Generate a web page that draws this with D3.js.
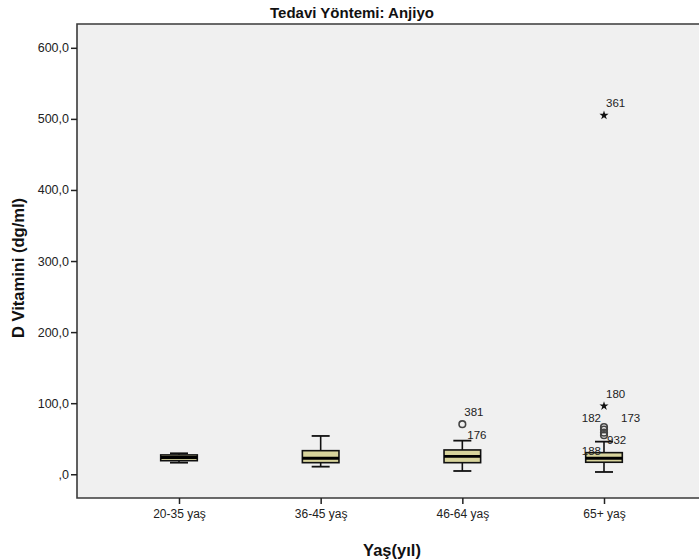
<!DOCTYPE html>
<html>
<head>
<meta charset="utf-8">
<script src="https://cdn.jsdelivr.net/npm/d3@7"></script>
<style>
  html, body { margin: 0; padding: 0; background: #fff; }
  svg { display: block; }
  text { font-family: "Liberation Sans", Arial, sans-serif; }
</style>
</head>
<body>
<svg id="chart" width="699" height="559"></svg>
<script>
// Age groups and five-number summaries of vitamin D (dg/ml)
const categories   = ["20-35 yaş", "36-45 yaş", "46-64 yaş", "65+ yaş"];
const whiskerLow   = [16.3, 10.7, 4.6, 3.2];
const q1           = [19.1, 16.3, 16.3, 16.9];
const median       = [23.6, 22.5, 25.3, 22.5];
const q3           = [27.2, 33.2, 34.2, 30.4];
const whiskerHigh  = [29.5, 53.9, 47.3, 45.9];

// Outliers (circle) and extreme values (star), with case numbers
const outlierGroup = ["46-64 yaş", "46-64 yaş", "65+ yaş", "65+ yaş", "65+ yaş", "65+ yaş", "65+ yaş", "65+ yaş", "65+ yaş"];
const outlierValue = [70.4, 47.6, 505, 96, 66.5, 63, 58.5, 55, 49];
const outlierShape = ["circle", "none", "star", "star", "circle", "circle", "circle", "circle", "none"];
const outlierId    = ["381", "176", "361", "180", "182", "173", "", "932", "188"];

const yTicks = [0, 100, 200, 300, 400, 500, 600];
const fmt = v => (v === 0 ? "" : String(v)) + ",0";

const svg = d3.select("#chart");
const plot = { left: 77, top: 24, right: 706, bottom: 498 };

const y = d3.scaleLinear().domain([-33.4, 633.5]).range([plot.bottom, plot.top]);
const x = d3.scalePoint().domain(categories).range([plot.left, plot.right]).padding(0.72);

// plot background
svg.append("rect")
  .attr("x", plot.left).attr("y", plot.top)
  .attr("width", plot.right - plot.left).attr("height", plot.bottom - plot.top)
  .attr("fill", "#f0f0f0");

// frame
svg.append("path")
  .attr("d", `M${plot.right},${plot.top}H${plot.left}V${plot.bottom}H${plot.right}`)
  .attr("fill", "none").attr("stroke", "#3a3a3a").attr("stroke-width", 1.6);

// y axis
const yAxis = svg.append("g")
  .attr("transform", `translate(${plot.left},0)`)
  .call(d3.axisLeft(y).tickValues(yTicks).tickFormat(fmt).tickSize(6).tickSizeOuter(0).tickPadding(2));
yAxis.select(".domain").remove();
yAxis.selectAll(".tick line").attr("stroke", "#222").attr("stroke-width", 1.5);
yAxis.selectAll(".tick text").attr("fill", "#222").style("font-size", "12.5px");

// x axis
const xAxis = svg.append("g")
  .attr("transform", `translate(0,${plot.bottom})`)
  .call(d3.axisBottom(x).tickSize(6).tickSizeOuter(0).tickPadding(5));
xAxis.select(".domain").remove();
xAxis.selectAll(".tick line").attr("stroke", "#222").attr("stroke-width", 1.5);
xAxis.selectAll(".tick text").attr("fill", "#222").style("font-size", "12px");

// boxes
const boxW = 36.6, capW = 18;
const boxes = categories.map((c, i) => ({
  c, lo: whiskerLow[i], q1: q1[i], med: median[i], q3: q3[i], hi: whiskerHigh[i]
}));
const g = svg.append("g");
boxes.forEach(b => {
  const cx = x(b.c);
  const gb = g.append("g");
  gb.append("line").attr("x1", cx).attr("x2", cx).attr("y1", y(b.hi)).attr("y2", y(b.q3))
    .attr("stroke", "#111").attr("stroke-width", 1.6);
  gb.append("line").attr("x1", cx).attr("x2", cx).attr("y1", y(b.q1)).attr("y2", y(b.lo))
    .attr("stroke", "#111").attr("stroke-width", 1.6);
  [b.hi, b.lo].forEach(v => {
    gb.append("line").attr("x1", cx - capW / 2).attr("x2", cx + capW / 2)
      .attr("y1", y(v)).attr("y2", y(v)).attr("stroke", "#111").attr("stroke-width", 1.8);
  });
  gb.append("rect")
    .attr("x", cx - boxW / 2).attr("width", boxW)
    .attr("y", y(b.q3)).attr("height", y(b.q1) - y(b.q3))
    .attr("fill", "#d8d49c").attr("stroke", "#111").attr("stroke-width", 1.6);
  gb.append("line").attr("x1", cx - boxW / 2).attr("x2", cx + boxW / 2)
    .attr("y1", y(b.med)).attr("y2", y(b.med)).attr("stroke", "#000").attr("stroke-width", 2.8);
});

// outliers
const labelPos = {
  "381": [2, -12, "start"], "176": [5, -5, "start"], "361": [2, -12, "start"],
  "180": [2, -12, "start"], "182": [-3, -9, "end"], "173": [17, -12, "start"],
  "932": [3, 5, "start"], "188": [-3, 12, "end"]
};
const star = d3.symbol().type(d3.symbolStar).size(26);
outlierValue.forEach((v, i) => {
  const cx = x(outlierGroup[i]), cy = y(v);
  if (outlierShape[i] === "circle") {
    g.append("circle").attr("cx", cx).attr("cy", cy).attr("r", 3.3)
      .attr("fill", "none").attr("stroke", "#444").attr("stroke-width", 1.6);
  } else if (outlierShape[i] === "star") {
    g.append("path").attr("d", star).attr("transform", `translate(${cx},${cy})`).attr("fill", "#111");
  }
  const id = outlierId[i];
  if (id) {
    const p = labelPos[id];
    g.append("text").attr("x", cx + p[0]).attr("y", cy + p[1])
      .attr("dy", "0.35em").attr("text-anchor", p[2])
      .attr("fill", "#222").style("font-size", "11.5px").text(id);
  }
});

// titles
svg.append("text").attr("x", 352).attr("y", 18).attr("text-anchor", "middle")
  .style("font-size", "15px").style("font-weight", "bold").attr("fill", "#111")
  .text("Tedavi Yöntemi: Anjiyo");
svg.append("text").attr("transform", "translate(24,268) rotate(-90)").attr("text-anchor", "middle")
  .style("font-size", "16.5px").style("font-weight", "bold").attr("fill", "#111")
  .text("D Vitamini (dg/ml)");
svg.append("text").attr("x", 392).attr("y", 556).attr("text-anchor", "middle")
  .style("font-size", "16.5px").style("font-weight", "bold").attr("fill", "#111")
  .text("Yaş(yıl)");
</script>
</body>
</html>
